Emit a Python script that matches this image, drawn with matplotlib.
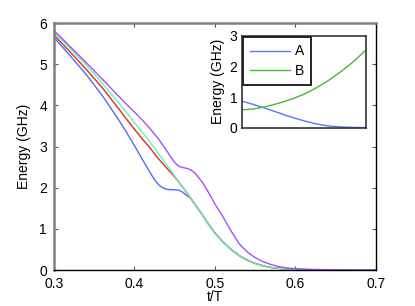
import matplotlib
matplotlib.use('Agg')
import matplotlib.pyplot as plt

plt.rcParams['font.family'] = ['Liberation Sans', 'DejaVu Sans']

# time axis (t/T)
t = [0.30, 0.32, 0.34, 0.36, 0.38, 0.39, 0.40, 0.41,
     0.42, 0.425, 0.43, 0.435, 0.44, 0.445, 0.45, 0.455, 0.46, 0.465, 0.47,
     0.475, 0.48, 0.485, 0.49, 0.495, 0.50, 0.505, 0.51, 0.515, 0.52,
     0.53, 0.54, 0.55, 0.56, 0.57, 0.58, 0.59, 0.60, 0.62, 0.65, 0.70]

# shared tail after the lower three levels merge (from t=0.47)
tail = [1.60, 1.46, 1.32, 1.17, 1.03, 0.90, 0.79, 0.68, 0.59, 0.50,
        0.35, 0.24, 0.16, 0.10, 0.06, 0.04, 0.025, 0.015, 0.005, 0.0, 0.0]

e_aqua = [5.77, 5.38, 4.98, 4.54, 4.07, 3.83, 3.58, 3.34,
          3.09, 2.96, 2.82, 2.69, 2.55, 2.42, 2.28, 2.15, 2.01, 1.88, 1.74] + tail
e_red = [5.71, 5.30, 4.88, 4.43, 3.93, 3.67, 3.42, 3.18,
         2.95, 2.82, 2.70, 2.59, 2.48, 2.37, 2.26, 2.14, 2.01, 1.88, 1.74] + tail
e_blue = [5.65, 5.21, 4.75, 4.24, 3.66, 3.35, 3.02, 2.68,
          2.35, 2.19, 2.07, 2.00, 1.96, 1.95, 1.95, 1.94, 1.89, 1.81, 1.74] + tail
e_purple = [5.82, 5.43, 5.04, 4.64, 4.23, 4.03, 3.84, 3.64,
            3.42, 3.30, 3.18, 3.04, 2.90, 2.75, 2.61, 2.52, 2.49, 2.47, 2.43,
            2.36, 2.24, 2.11, 1.95, 1.78, 1.60, 1.45, 1.29, 1.12, 0.95,
            0.64, 0.44, 0.30, 0.20, 0.13, 0.08, 0.05, 0.03, 0.015, 0.005, 0.0]

# inset data
s = [0.0, 0.1, 0.2, 0.3, 0.4, 0.5, 0.6, 0.7, 0.8, 0.9, 1.0]
inset_a = [0.87, 0.75, 0.62, 0.48, 0.34, 0.22, 0.12, 0.05, 0.02, 0.005, 0.0]
inset_b = [0.58, 0.61, 0.69, 0.80, 0.93, 1.09, 1.30, 1.55, 1.84, 2.17, 2.55]

fig = plt.figure(figsize=(4.15, 3.06), dpi=100)
ax = fig.add_axes([0.130, 0.1176, 0.776, 0.807])

ax.plot(t, e_blue, color='#4f6cff', lw=1)
ax.plot(t, e_red, color='#e82a10', lw=1)
ax.plot(t, e_aqua, color='#5ff5b8', lw=1)
ax.plot(t, e_purple, color='#a64cff', lw=1)

ax.set_xlim(0.3, 0.7)
ax.set_ylim(0, 6)
ax.set_xticks([0.3, 0.4, 0.5, 0.6, 0.7])
ax.set_yticks([0, 1, 2, 3, 4, 5, 6])
ax.set_xticklabels(['0.3', '0.4', '0.5', '0.6', '0.7'])
ax.tick_params(direction='in', length=3, labelsize=10, top=True, right=True,
               color='#555555')
ax.tick_params(axis='x', pad=5)
ax.tick_params(axis='y', pad=5)
ax.set_xlabel('t/T', fontsize=10, labelpad=-1)
ax.set_ylabel('Energy (GHz)', fontsize=10, labelpad=6)
for side in ['top', 'left']:
    ax.spines[side].set_color('#808080')
    ax.spines[side].set_linewidth(1.8)
for side in ['bottom', 'right']:
    ax.spines[side].set_color('black')
    ax.spines[side].set_linewidth(1.0)

# inset
ins = fig.add_axes([0.582, 0.583, 0.301, 0.300])
ins.plot(s, inset_a, color='#5577ff', lw=1, label='A')
ins.plot(s, inset_b, color='#44bb33', lw=1, label='B')
ins.set_xlim(0, 1)
ins.set_ylim(0, 3)
ins.set_xticks([])
ins.set_yticks([0, 1, 2, 3])
ins.tick_params(direction='in', length=0, labelsize=10, pad=3)
ins.set_ylabel('Energy (GHz)', fontsize=10, labelpad=3)
for side in ins.spines:
    ins.spines[side].set_color('#333333')
    ins.spines[side].set_linewidth(1.2)
leg = ins.legend(loc='upper left', fontsize=10, fancybox=False, framealpha=1,
                 edgecolor='#222222', borderpad=0.5, handlelength=2.9,
                 handletextpad=0.35, labelspacing=0.4, borderaxespad=0.12)
leg.get_frame().set_linewidth(1.4)

fig.savefig('out.png', dpi=100)
